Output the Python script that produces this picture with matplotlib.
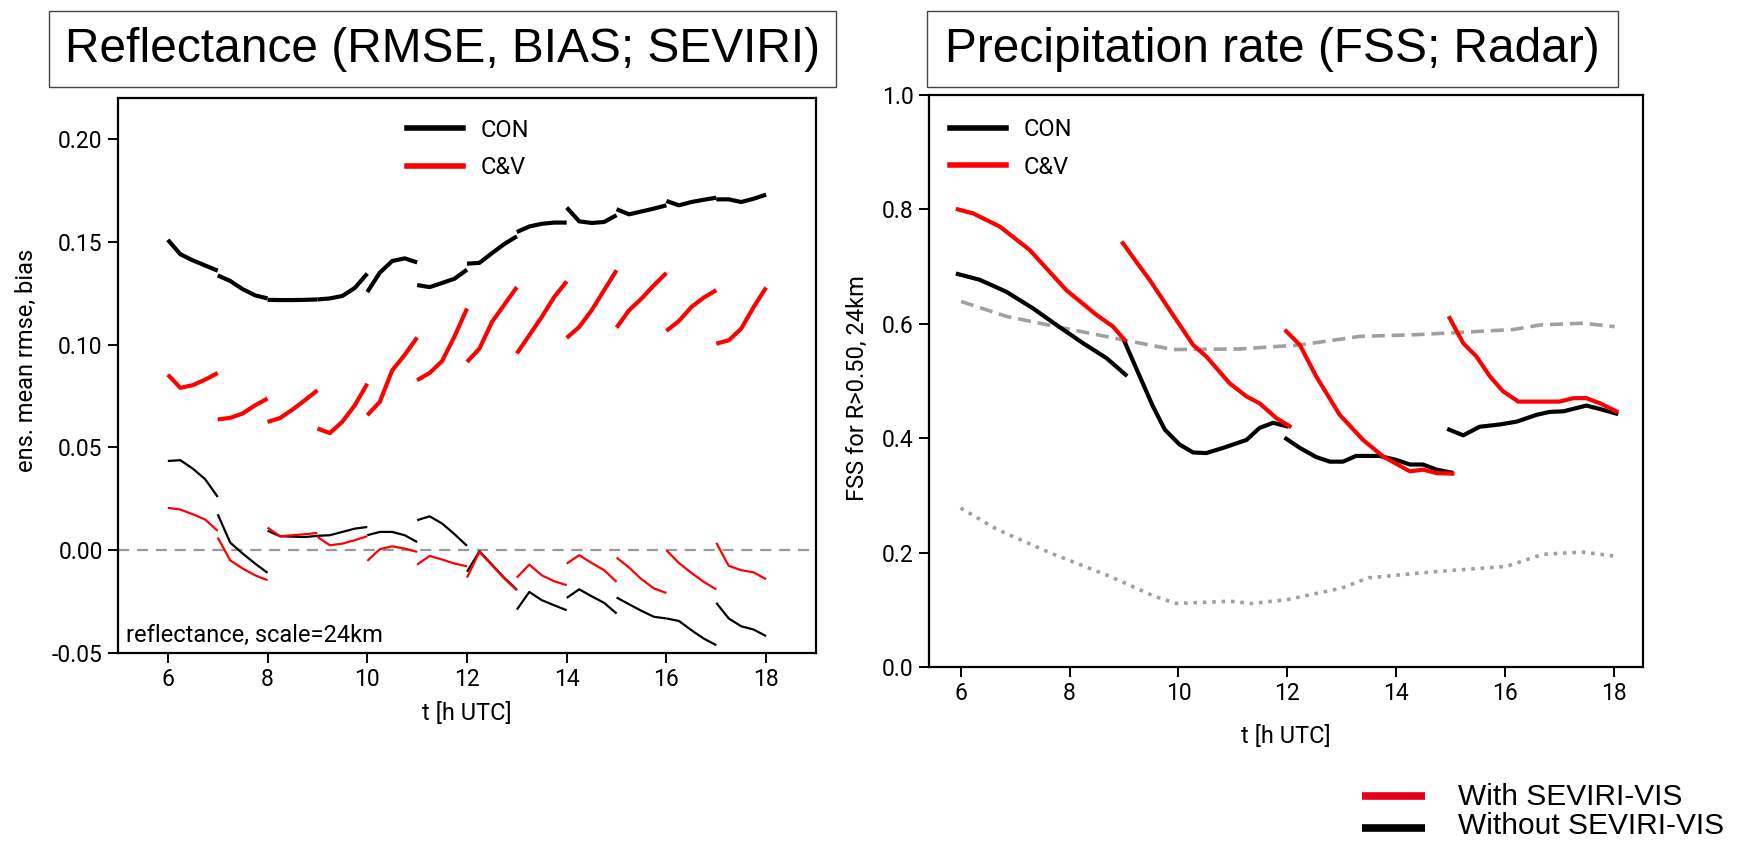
import matplotlib
matplotlib.use("Agg")
import matplotlib.pyplot as plt
from matplotlib.lines import Line2D
from matplotlib.patches import Rectangle

plt.rcParams['font.family'] = ['Roboto', 'DejaVu Sans']
plt.rcParams['axes.unicode_minus'] = False

# ---------------- reflectance verification (hourly forecast segments, 15 min output) ----------------
refl_starts = [6, 7, 8, 9, 10, 11, 12, 13, 14, 15, 16, 17]
refl_steps = [0.0, 0.25, 0.5, 0.75, 1.0]

rmse_con = [
    [0.151, 0.144, 0.141, 0.1385, 0.136],
    [0.1337, 0.131, 0.127, 0.124, 0.1225],
    [0.1218, 0.1217, 0.1217, 0.1218, 0.122],
    [0.1220, 0.1225, 0.1237, 0.1276, 0.1346],
    [0.1256, 0.135, 0.1407, 0.142, 0.140],
    [0.129, 0.128, 0.130, 0.1321, 0.1365],
    [0.1394, 0.1398, 0.1445, 0.149, 0.1527],
    [0.1548, 0.1575, 0.1588, 0.1594, 0.1594],
    [0.1667, 0.160, 0.1592, 0.1597, 0.163],
    [0.1659, 0.1634, 0.1648, 0.1662, 0.1678],
    [0.1699, 0.1678, 0.1694, 0.1705, 0.1715],
    [0.1707, 0.1707, 0.1694, 0.171, 0.173],
]
rmse_cv = [
    [0.0854, 0.079, 0.0803, 0.083, 0.0862],
    [0.0636, 0.0644, 0.0665, 0.0705, 0.0738],
    [0.0624, 0.0643, 0.0684, 0.073, 0.0778],
    [0.0592, 0.057, 0.0625, 0.0705, 0.081],
    [0.0657, 0.0721, 0.0875, 0.095, 0.1035],
    [0.0827, 0.0862, 0.092, 0.104, 0.1176],
    [0.0916, 0.0981, 0.1110, 0.1195, 0.128],
    [0.0957, 0.1046, 0.1135, 0.1232, 0.1308],
    [0.1033, 0.1086, 0.1167, 0.1265, 0.1362],
    [0.1083, 0.1167, 0.1224, 0.1289, 0.1349],
    [0.1067, 0.1115, 0.1183, 0.1229, 0.1265],
    [0.1005, 0.1021, 0.1078, 0.1183, 0.1278],
]
bias_con = [
    [0.0434, 0.0438, 0.0397, 0.0345, 0.0259],
    [0.0175, 0.0037, -0.0016, -0.0065, -0.011],
    [0.0095, 0.0068, 0.0066, 0.0064, 0.0070],
    [0.0070, 0.0073, 0.0089, 0.0105, 0.0113],
    [0.0073, 0.0089, 0.0089, 0.0073, 0.0040],
    [0.0146, 0.0165, 0.0130, 0.0078, 0.0021],
    [-0.0105, -0.0005, -0.0070, -0.0135, -0.0192],
    [-0.0289, -0.0203, -0.0243, -0.0268, -0.0292],
    [-0.0232, -0.0190, -0.0224, -0.0256, -0.0308],
    [-0.0230, -0.0263, -0.0295, -0.0324, -0.0332],
    [-0.0332, -0.0344, -0.0389, -0.0430, -0.0462],
    [-0.0256, -0.0332, -0.0370, -0.0386, -0.0418],
]
bias_cv = [
    [0.0206, 0.0198, 0.0175, 0.0149, 0.0094],
    [0.0062, -0.0049, -0.0089, -0.0122, -0.0146],
    [0.0110, 0.0068, 0.0073, 0.0078, 0.0084],
    [0.0065, 0.0024, 0.0032, 0.0049, 0.0068],
    [-0.0052, 0.0005, 0.0019, 0.0008, -0.0008],
    [-0.0070, -0.0028, -0.0045, -0.0065, -0.0078],
    [-0.0133, -0.0008, -0.0073, -0.0138, -0.0195],
    [-0.0133, -0.0070, -0.0122, -0.0151, -0.0170],
    [-0.0065, -0.0024, -0.0062, -0.0097, -0.0154],
    [-0.0036, -0.0084, -0.0141, -0.0186, -0.0208],
    [0.0000, -0.0062, -0.0110, -0.0154, -0.0191],
    [0.0036, -0.0076, -0.0097, -0.0108, -0.0141],
]

# ---------------- precipitation FSS (3-hourly forecast segments) ----------------
fss_cv_t = [
    [5.95, 6.23, 6.72, 7.27, 7.94, 8.49, 8.8, 9.01],
    [8.98, 9.29, 9.47, 9.84, 10.27, 10.51, 10.94, 11.25, 11.49, 11.8, 12.04],
    [11.98, 12.23, 12.53, 12.96, 13.39, 13.76, 14.25, 14.49, 14.74, 15.03],
    [14.98, 15.23, 15.47, 15.72, 15.96, 16.24, 16.57, 17.0, 17.25, 17.49, 17.74, 18.04],
]
fss_cv_v = [
    [0.800, 0.793, 0.770, 0.729, 0.659, 0.616, 0.595, 0.572],
    [0.741, 0.700, 0.677, 0.624, 0.563, 0.543, 0.496, 0.473, 0.461, 0.435, 0.421],
    [0.587, 0.563, 0.508, 0.441, 0.397, 0.368, 0.342, 0.345, 0.339, 0.338],
    [0.610, 0.566, 0.543, 0.508, 0.482, 0.464, 0.464, 0.464, 0.470, 0.470, 0.461, 0.447],
]
fss_con_t = [
    [5.95, 6.35, 6.84, 7.33, 7.76, 8.25, 8.68, 9.03],
    [9.01, 9.29, 9.53, 9.75, 10.02, 10.27, 10.51, 10.82, 11.25, 11.49, 11.74, 11.98],
    [11.98, 12.23, 12.53, 12.78, 13.02, 13.26, 13.69, 14.0, 14.25, 14.49, 14.74, 15.01],
    [14.97, 15.23, 15.53, 15.9, 16.21, 16.58, 16.82, 17.07, 17.49, 17.74, 18.04],
]
fss_con_v = [
    [0.687, 0.677, 0.656, 0.627, 0.598, 0.566, 0.540, 0.511],
    [0.569, 0.508, 0.456, 0.415, 0.389, 0.375, 0.374, 0.383, 0.397, 0.418, 0.427, 0.421],
    [0.399, 0.383, 0.367, 0.359, 0.359, 0.369, 0.369, 0.362, 0.354, 0.354, 0.345, 0.340],
    [0.415, 0.405, 0.420, 0.424, 0.429, 0.441, 0.446, 0.447, 0.457, 0.451, 0.443],
]
# reference levels (uniform / random forecast)
fss_unif_t = [6.01, 6.84, 7.76, 8.98, 9.9, 11.12, 12.23, 13.33, 14.37, 14.98, 16.15, 16.64, 17.43, 18.01]
fss_unif_v = [0.639, 0.613, 0.595, 0.572, 0.555, 0.556, 0.563, 0.578, 0.581, 0.584, 0.590, 0.598, 0.601, 0.595]
fss_rand_t = [6.0, 6.68, 7.66, 8.73, 9.55, 9.96, 10.95, 11.35, 12.01, 13.0, 13.49, 14.63, 16.03, 16.69, 17.42, 18.0]
fss_rand_v = [0.278, 0.240, 0.199, 0.159, 0.124, 0.111, 0.115, 0.111, 0.118, 0.138, 0.156, 0.166, 0.176, 0.197, 0.201, 0.194]

left_yticks = [-0.05, 0.00, 0.05, 0.10, 0.15, 0.20]
right_yticks = [0.0, 0.2, 0.4, 0.6, 0.8, 1.0]
hour_ticks = [6, 8, 10, 12, 14, 16, 18]

RED = '#ff0000'
GRAY = '#a0a0a0'
TICK_FS = 16.5
LABEL_FS = 17

W, H = 1744, 844
fig = plt.figure(figsize=(W / 100, H / 100), dpi=100)


def frac_axes(x0, y0, x1, y1):
    return fig.add_axes([x0 / W, 1 - y1 / H, (x1 - x0) / W, (y1 - y0) / H])


def style_axes(ax):
    for s in ax.spines.values():
        s.set_linewidth(1.6)
    ax.tick_params(direction='out', length=7, width=1.4, labelsize=TICK_FS, pad=4)
    ax.set_xticks(hour_ticks)


def add_legend(ax, x, y):
    handles = [Line2D([], [], color='black', lw=4), Line2D([], [], color=RED, lw=4)]
    ax.legend(handles, ['CON', 'C&V'], loc='center left', bbox_to_anchor=(x, y),
              frameon=False, fontsize=LABEL_FS, handlelength=2.37, handletextpad=0.75,
              labelspacing=0.62, borderpad=0, borderaxespad=0)


# ---- left panel ----
ax1 = frac_axes(118, 98, 816, 653)
style_axes(ax1)
ax1.axhline(0.0, color='#999999', lw=1.6, ls=(0, (5, 3.5)), zorder=1)
for h, rc, rv, bc, bv in zip(refl_starts, rmse_con, rmse_cv, bias_con, bias_cv):
    t = [h + s for s in refl_steps]
    ax1.plot(t, rc, color='black', lw=3.0, solid_capstyle='butt', zorder=3)
    ax1.plot(t, rv, color=RED, lw=3.0, solid_capstyle='butt', zorder=3)
    ax1.plot(t, bc, color='black', lw=1.6, solid_capstyle='butt', zorder=3)
    ax1.plot(t, bv, color=RED, lw=1.6, solid_capstyle='butt', zorder=4)
ax1.set_xlim(5, 19)
ax1.set_ylim(-0.05, 0.22)
ax1.set_yticks(left_yticks)
ax1.set_yticklabels([f"{v:.2f}" for v in left_yticks])
ax1.set_xlabel('t [h UTC]', fontsize=LABEL_FS, labelpad=7.5)
ax1.set_ylabel('ens. mean rmse, bias', fontsize=LABEL_FS)
ax1.yaxis.set_label_coords(-0.114, 0.528)
ax1.text(0.012, 0.032, 'reflectance, scale=24km', transform=ax1.transAxes,
         fontsize=LABEL_FS, va='center', ha='left')
add_legend(ax1, 0.4136, 0.908)

# ---- right panel ----
ax2 = frac_axes(929, 95, 1643, 667)
style_axes(ax2)
ax2.plot(fss_unif_t, fss_unif_v, color=GRAY, lw=2.6, ls=(0, (3.6, 1.9)), zorder=2)
ax2.plot(fss_rand_t, fss_rand_v, color=GRAY, lw=2.6, ls=(0, (1, 1.6)), zorder=2)
for t, v in zip(fss_con_t, fss_con_v):
    ax2.plot(t, v, color='black', lw=3.0, zorder=3)
for t, v in zip(fss_cv_t, fss_cv_v):
    ax2.plot(t, v, color=RED, lw=3.0, zorder=4)
ax2.set_xlim(5.42, 18.53)
ax2.set_ylim(0, 1.0)
ax2.set_yticks(right_yticks)
ax2.set_yticklabels([f"{v:.1f}" for v in right_yticks])
ax2.set_xlabel('t [h UTC]', fontsize=LABEL_FS, labelpad=14)
ax2.set_ylabel('FSS for R>0.50, 24km', fontsize=LABEL_FS)
ax2.yaxis.set_label_coords(-0.084, 0.4885)
add_legend(ax2, 0.0294, 0.907)

# ---- boxed panel titles ----
TITLE_FONT = ['Liberation Sans', 'DejaVu Sans']


def boxed_title(x0, y0, x1, y1, text):
    fig.patches.append(Rectangle((x0 / W, 1 - y1 / H), (x1 - x0) / W, (y1 - y0) / H,
                                 transform=fig.transFigure, facecolor='white',
                                 edgecolor='#444444', lw=1.0))
    fig.text((x0 + x1) / 2 / W, 1 - (y0 + y1) / 2 / H, text, family=TITLE_FONT,
             fontsize=34.5, ha='center', va='center')


boxed_title(49, 11, 836, 87, 'Reflectance (RMSE, BIAS; SEVIRI)')
boxed_title(927, 11, 1618, 87, 'Precipitation rate (FSS; Radar)')

# ---- experiment key ----
for y_line, y_text, col, lab in [(795.5, 797, '#e2001a', 'With SEVIRI-VIS'),
                                 (828, 826, 'black', 'Without SEVIRI-VIS')]:
    fig.add_artist(Line2D([1362 / W, 1425 / W], [1 - y_line / H, 1 - y_line / H], color=col,
                          lw=5.5, solid_capstyle='butt', transform=fig.transFigure))
    fig.text(1458 / W, 1 - y_text / H, lab, family=TITLE_FONT, fontsize=21.5,
             ha='left', va='center')

fig.savefig('out.png', dpi=100)
